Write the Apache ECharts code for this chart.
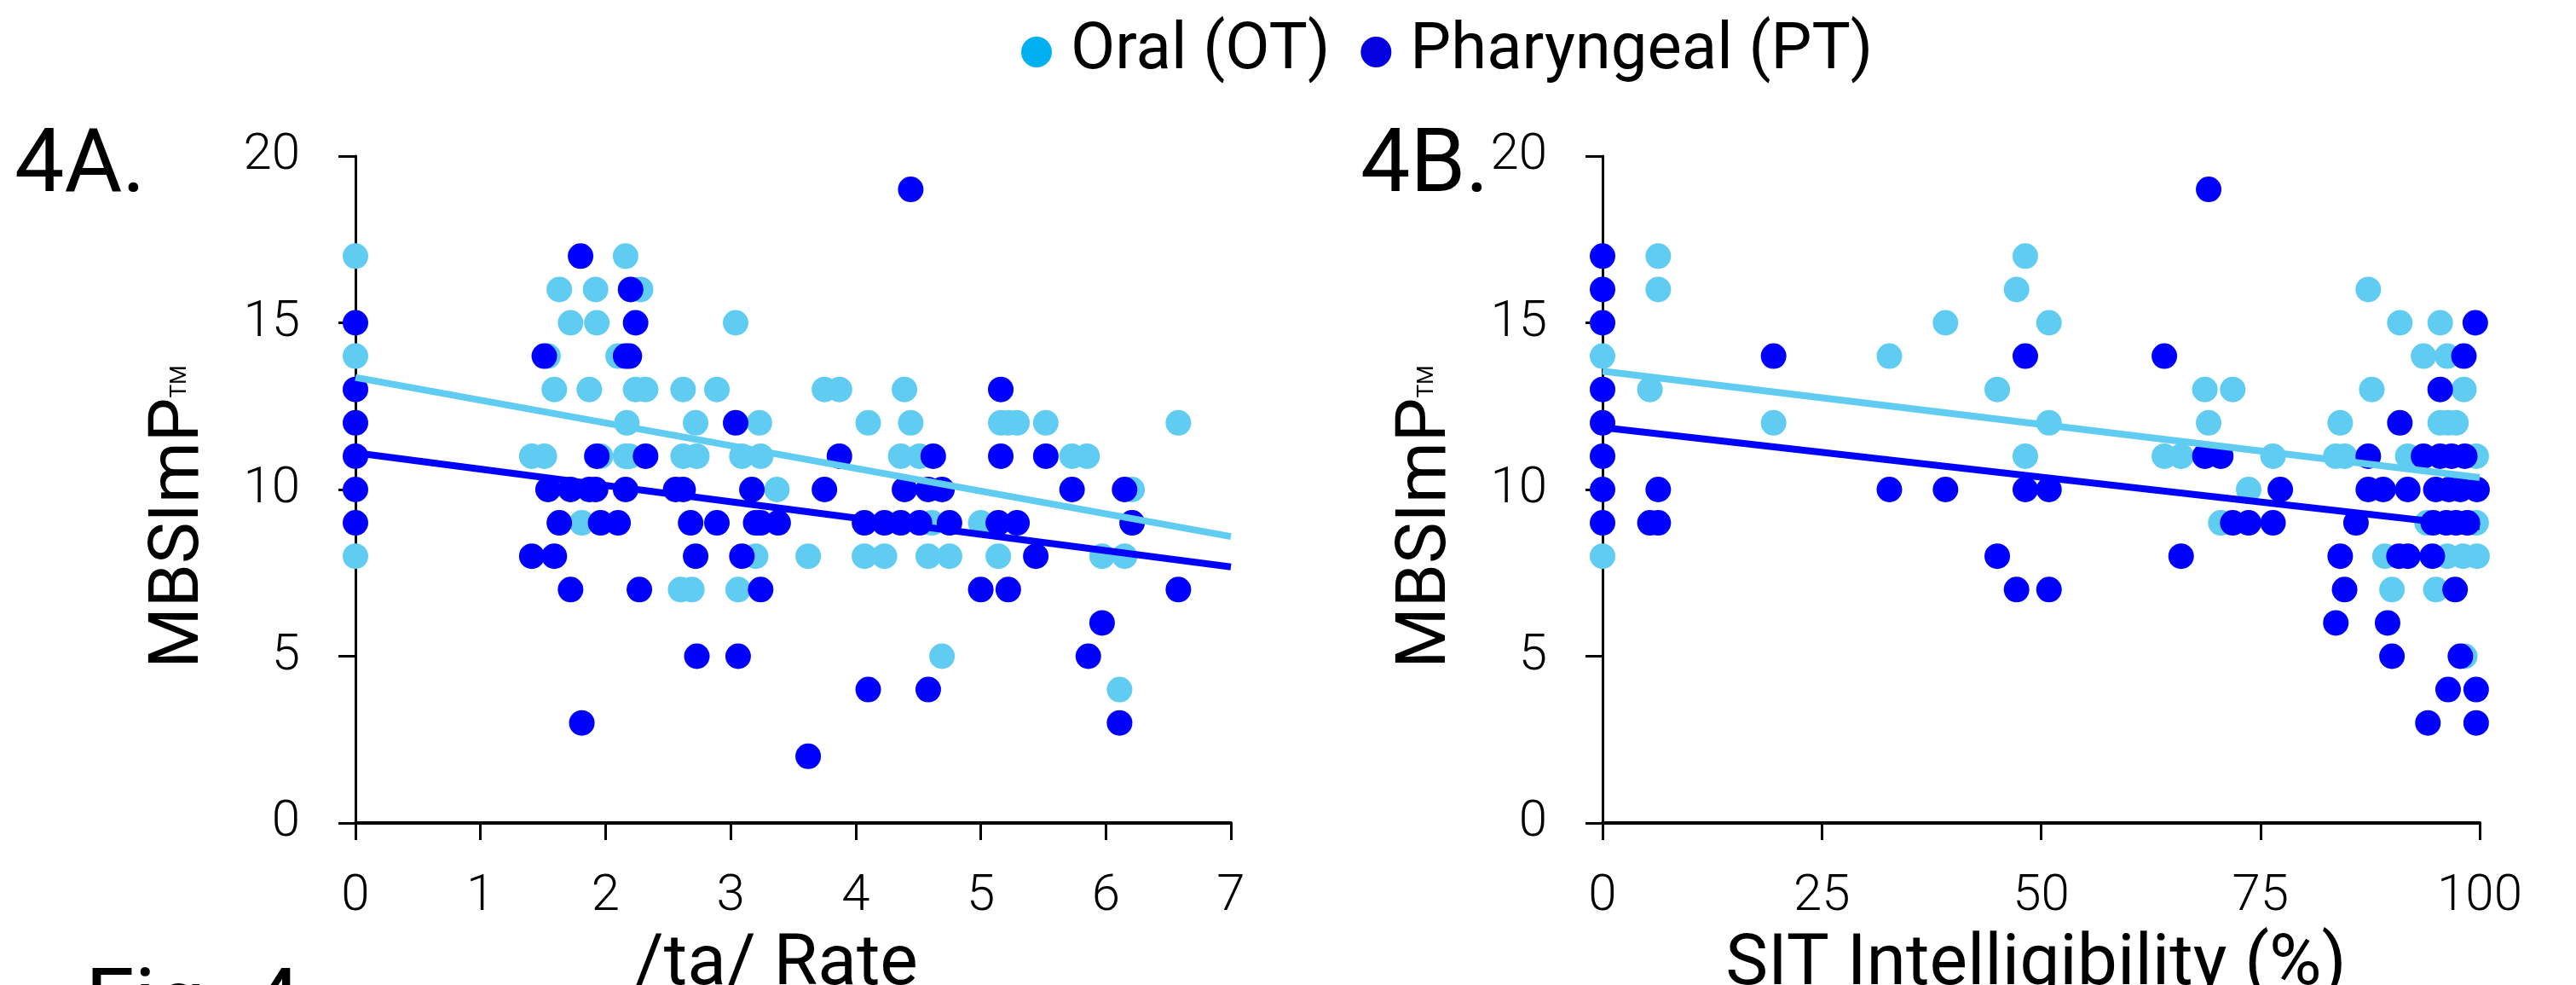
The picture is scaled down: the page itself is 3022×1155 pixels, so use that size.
<!DOCTYPE html>
<html lang="en">
<head>
    <meta charset="UTF-8">
    <title>Fig. 4</title>
    <script src="https://cdn.jsdelivr.net/npm/echarts@6/dist/echarts.min.js"></script>
    <style>
        html, body { margin: 0; padding: 0; background: #fff; }
        #main { width: 3022px; height: 1155px; }
    </style>
</head>
<body>
<div id="main"></div>
<script type="text/javascript">
    // 4A: /ta/ rate vs MBSImP score
    var oralRate = [
        [0, 17], [0, 14], [0, 8],
        [2.16, 17],
        [1.63, 16], [1.92, 16], [2.28, 16],
        [1.72, 15], [1.93, 15], [3.04, 15],
        [1.54, 14], [2.10, 14],
        [1.59, 13], [1.87, 13], [2.24, 13], [2.32, 13], [2.62, 13], [2.89, 13], [3.75, 13], [3.87, 13], [4.39, 13],
        [2.17, 12], [2.72, 12], [3.23, 12], [4.10, 12], [4.44, 12], [5.16, 12], [5.22, 12], [5.29, 12], [5.52, 12], [6.58, 12],
        [1.41, 11], [1.51, 11], [1.96, 11], [2.16, 11], [2.19, 11], [2.62, 11], [2.73, 11], [3.09, 11], [3.24, 11], [4.36, 11], [4.51, 11], [5.73, 11], [5.85, 11],
        [3.37, 10], [6.21, 10],
        [1.81, 9], [4.61, 9], [5.00, 9],
        [3.20, 8], [3.62, 8], [4.07, 8], [4.23, 8], [4.58, 8], [4.75, 8], [5.14, 8], [5.97, 8], [6.15, 8],
        [2.60, 7], [2.69, 7], [3.06, 7],
        [4.69, 5],
        [6.11, 4]
    ];
    var pharRate = [
        [0, 15], [0, 13], [0, 12], [0, 11], [0, 10], [0, 9],
        [4.44, 19],
        [1.80, 17],
        [2.20, 16],
        [2.24, 15],
        [1.51, 14], [2.16, 14], [2.19, 14],
        [5.16, 13],
        [3.04, 12],
        [1.93, 11], [2.32, 11], [3.87, 11], [4.62, 11], [5.16, 11], [5.52, 11],
        [1.54, 10], [1.72, 10], [1.87, 10], [1.92, 10], [2.16, 10], [2.56, 10], [2.62, 10], [3.17, 10], [3.75, 10], [4.39, 10], [4.58, 10], [4.69, 10], [5.73, 10], [6.15, 10],
        [1.63, 9], [1.96, 9], [2.10, 9], [2.68, 9], [2.89, 9], [3.20, 9], [3.24, 9], [3.38, 9], [4.07, 9], [4.23, 9], [4.36, 9], [4.51, 9], [4.75, 9], [5.14, 9], [5.29, 9], [6.21, 9],
        [1.41, 8], [1.59, 8], [2.72, 8], [3.09, 8], [5.44, 8],
        [1.72, 7], [2.27, 7], [3.24, 7], [5.00, 7], [5.22, 7], [6.58, 7],
        [5.97, 6],
        [2.73, 5], [3.06, 5], [5.86, 5],
        [4.10, 4], [4.58, 4],
        [1.81, 3], [6.11, 3],
        [3.62, 2]
    ];
    var oralRateTrend = [[0, 13.36], [7, 8.59]];
    var pharRateTrend = [[0, 11.10], [7, 7.68]];

    // 4B: SIT intelligibility vs MBSImP score
    var oralSit = [
        [0, 14], [0, 8],
        [6.35, 17], [6.35, 16], [5.4, 13],
        [19.5, 12], [32.7, 14], [39.1, 15], [45.0, 13], [48.2, 17], [47.2, 16], [48.2, 11], [50.9, 15], [50.9, 12],
        [64.05, 11], [65.96, 11], [68.67, 13], [69.1, 12], [70.48, 9], [71.85, 13], [73.66, 10], [76.44, 11],
        [87.3, 16], [90.9, 15], [95.5, 15], [93.6, 14], [96.3, 14], [87.7, 13], [98.2, 13],
        [84.1, 12], [95.5, 12], [96.4, 12], [97.3, 12],
        [83.6, 11], [84.6, 11], [91.8, 11], [99.6, 11],
        [94.0, 9], [99.6, 9],
        [89.2, 8], [96.3, 8], [98.1, 8], [99.7, 8],
        [90.0, 7], [95.0, 7],
        [98.3, 5]
    ];
    var pharSit = [
        [0, 17], [0, 16], [0, 15], [0, 13], [0, 12], [0, 11], [0, 10], [0, 9],
        [6.35, 10], [5.4, 9], [6.35, 9],
        [19.5, 14], [32.7, 10], [39.1, 10], [45.0, 8], [47.2, 7], [48.2, 14], [48.2, 10], [50.9, 10], [50.9, 7],
        [69.1, 19], [64.05, 14], [68.67, 11], [70.48, 11], [77.27, 10], [71.85, 9], [73.66, 9], [76.44, 9], [65.96, 8],
        [99.5, 15], [98.2, 14], [95.5, 13], [90.9, 12],
        [87.3, 11], [93.6, 11], [95.5, 11], [96.8, 11], [98.3, 11],
        [87.3, 10], [89.0, 10], [91.8, 10], [95.0, 10], [96.5, 10], [97.8, 10], [99.7, 10],
        [85.9, 9], [94.7, 9], [96.2, 9], [97.3, 9], [98.6, 9],
        [84.1, 8], [90.8, 8], [91.8, 8], [94.6, 8],
        [84.6, 7], [97.2, 7],
        [83.6, 6], [89.5, 6],
        [90.0, 5], [97.8, 5],
        [96.4, 4], [99.6, 4],
        [94.1, 3], [99.6, 3]
    ];
    var oralSitTrend = [[0, 13.55], [100, 10.36]];
    var pharSitTrend = [[0, 11.86], [100, 8.88]];

    var seriesNames = ['Oral (OT)', 'Pharyngeal (PT)'];
    var xTitles = ['/ta/ Rate', 'SIT Intelligibility (%)'];
    var panelLabels = ['4A.', '4B.'];

    var oralColor = '#61CCF2';
    var pharColor = '#0000FF';
    var font = 'Roboto, "Liberation Sans", sans-serif';

    function xAxisFor(idx, max, interval, title, pad) {
        return {
            type: 'value', gridIndex: idx, min: 0, max: max, interval: interval,
            name: title, nameLocation: 'middle', nameGap: 126,
            nameTextStyle: { fontFamily: font, fontSize: 84, color: '#000', padding: pad },
            axisLine: { lineStyle: { color: '#000', width: 4 } },
            axisTick: { length: 20, lineStyle: { color: '#000', width: 3 } },
            axisLabel: { margin: 57, fontFamily: font, fontWeight: 300, fontSize: 60, color: '#000' },
            splitLine: { show: false }
        };
    }

    function yAxisFor(idx) {
        return {
            type: 'value', gridIndex: idx, min: 0, max: 20, interval: 5,
            name: '{a|MBSImP}{b|TM}', nameLocation: 'middle', nameGap: 165,
            nameTextStyle: {
                padding: [0, 64, 0, 0],
                rich: {
                    a: { fontFamily: font, fontSize: 82, color: '#000' },
                    b: { fontFamily: font, fontSize: 26, color: '#000', verticalAlign: 'middle' }
                }
            },
            axisLine: { lineStyle: { color: '#000', width: 3 } },
            axisTick: { length: 20, lineStyle: { color: '#000', width: 3 } },
            axisLabel: { margin: 65, fontFamily: font, fontWeight: 300, fontSize: 60, color: '#000' },
            splitLine: { show: false }
        };
    }

    function scatter(name, idx, data, color, z) {
        return {
            name: name, type: 'scatter', xAxisIndex: idx, yAxisIndex: idx,
            data: data, symbolSize: 30, z: z,
            itemStyle: { color: color, opacity: 1 }
        };
    }

    function trend(idx, data, color) {
        return {
            name: 'trend', type: 'line', xAxisIndex: idx, yAxisIndex: idx,
            data: data, showSymbol: false, z: 4, silent: true,
            lineStyle: { color: color, width: 8 }
        };
    }

    var myChart = echarts.init(document.getElementById('main'));
    var option = {
        animation: false,
        backgroundColor: '#fff',
        legend: {
            data: [
                { name: seriesNames[0], itemStyle: { color: '#00B0F0' } },
                { name: seriesNames[1], itemStyle: { color: '#0500E0' } }
            ],
            left: 1193, top: 18,
            icon: 'circle', itemWidth: 36, itemHeight: 36, itemGap: 36,
            textStyle: { fontFamily: font, fontSize: 76, color: '#000', padding: [18, 0, 0, 17] },
            selectedMode: false
        },
        grid: [
            { left: 417, top: 183, width: 1027, height: 782, outerBoundsMode: 'none' },
            { left: 1880, top: 183, width: 1029, height: 782, outerBoundsMode: 'none' }
        ],
        xAxis: [
            xAxisFor(0, 7, 1, xTitles[0], [0, 40, 0, 0]),
            xAxisFor(1, 100, 25, xTitles[1], [0, 12, 0, 0])
        ],
        yAxis: [yAxisFor(0), yAxisFor(1)],
        graphic: [
            { type: 'text', x: 17, y: 198, style: { text: panelLabels[0], fontFamily: font, fontWeight: 400, fontSize: 104, fill: '#000', verticalAlign: 'middle' } },
            { type: 'text', x: 1596, y: 198, style: { text: panelLabels[1], fontFamily: font, fontWeight: 400, fontSize: 104, fill: '#000', verticalAlign: 'middle' } },
            { type: 'text', x: 100, y: 1183, style: { text: 'Fig. 4', fontFamily: font, fontWeight: 400, fontSize: 104, fill: '#000', verticalAlign: 'middle' } }
        ],
        series: [
            scatter(seriesNames[0], 0, oralRate, oralColor, 2),
            scatter(seriesNames[1], 0, pharRate, pharColor, 3),
            trend(0, oralRateTrend, oralColor),
            trend(0, pharRateTrend, pharColor),
            scatter(seriesNames[0], 1, oralSit, oralColor, 2),
            scatter(seriesNames[1], 1, pharSit, pharColor, 3),
            trend(1, oralSitTrend, oralColor),
            trend(1, pharSitTrend, pharColor)
        ]
    };
    myChart.setOption(option);
</script>
</body>
</html>
